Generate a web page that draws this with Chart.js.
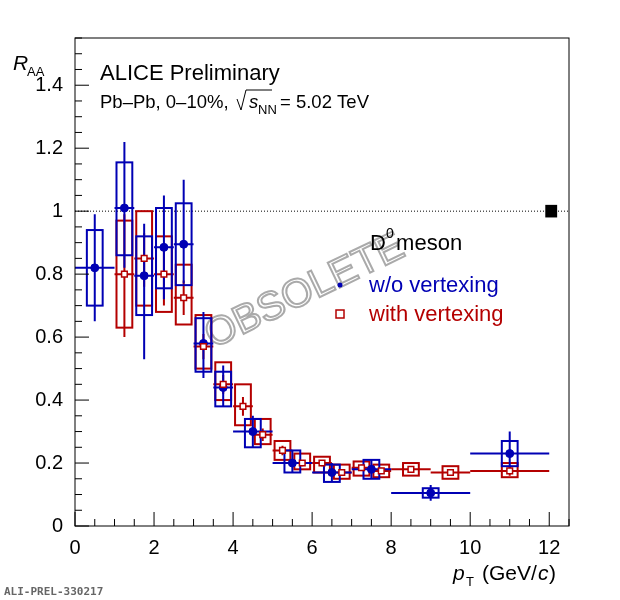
<!DOCTYPE html>
<html><head><meta charset="utf-8">
<script src="https://cdn.jsdelivr.net/npm/chart.js@4"></script>
<style>body{margin:0;background:#fff}#wrap{width:620px;height:600px}</style>
</head><body><div id="wrap"><canvas id="c"></canvas></div>
<script>
// w/o vertexing (blue)
const bluePt = [0.5, 1.25, 1.75, 2.25, 2.75, 3.25, 3.75, 4.5, 5.5, 6.5, 7.5, 9, 11];
const blueXerr = [0.5, 0.25, 0.25, 0.25, 0.25, 0.25, 0.25, 0.5, 0.5, 0.5, 0.5, 1, 1];
const blueR = [0.82, 1.01, 0.795, 0.885, 0.895, 0.58, 0.44, 0.30, 0.20, 0.17, 0.18, 0.105, 0.23];
const blueStatLo = [0.65, 0.82, 0.53, 0.72, 0.77, 0.47, 0.38, 0.25, 0.17, 0.14, 0.15, 0.08, 0.17];
const blueStatHi = [0.99, 1.22, 0.96, 1.05, 1.10, 0.68, 0.51, 0.35, 0.24, 0.20, 0.21, 0.13, 0.30];
const blueSysLo = [0.70, 0.86, 0.67, 0.755, 0.765, 0.49, 0.38, 0.25, 0.17, 0.14, 0.15, 0.09, 0.19];
const blueSysHi = [0.94, 1.155, 0.92, 1.01, 1.025, 0.66, 0.49, 0.34, 0.24, 0.195, 0.21, 0.12, 0.27];
// with vertexing (red)
const redPt = [1.25, 1.75, 2.25, 2.75, 3.25, 3.75, 4.25, 4.75, 5.25, 5.75, 6.25, 6.75, 7.25, 7.75, 8.5, 9.5, 11];
const redXerr = [0.25, 0.25, 0.25, 0.25, 0.25, 0.25, 0.25, 0.25, 0.25, 0.25, 0.25, 0.25, 0.25, 0.25, 0.5, 0.5, 1];
const redR = [0.80, 0.85, 0.80, 0.725, 0.57, 0.45, 0.38, 0.29, 0.24, 0.20, 0.20, 0.17, 0.185, 0.175, 0.18, 0.17, 0.175];
const redStatLo = [0.60, 0.76, 0.70, 0.67, 0.53, 0.42, 0.35, 0.27, 0.225, 0.19, 0.19, 0.16, 0.175, 0.165, 0.17, 0.16, 0.16];
const redStatHi = [0.99, 0.93, 0.90, 0.78, 0.61, 0.48, 0.41, 0.31, 0.255, 0.21, 0.21, 0.18, 0.195, 0.185, 0.19, 0.18, 0.19];
const redSysLo = [0.63, 0.70, 0.68, 0.64, 0.50, 0.40, 0.32, 0.26, 0.21, 0.18, 0.17, 0.15, 0.16, 0.155, 0.16, 0.15, 0.155];
const redSysHi = [0.97, 1.00, 0.92, 0.83, 0.67, 0.52, 0.45, 0.34, 0.27, 0.23, 0.22, 0.195, 0.205, 0.195, 0.20, 0.19, 0.20];
const xTicks = [0, 2, 4, 6, 8, 10, 12];
const yTicks = [0, 0.2, 0.4, 0.6, 0.8, 1, 1.2, 1.4];

const BLUE = '#0000b4', RED = '#b40000', BOXW = 0.2;

function pts(x, y) { return x.map((v, i) => ({x: v, y: y[i]})); }

const decor = {
  id: 'decor',
  beforeDatasetsDraw(chart) {
    const {ctx, chartArea: a, scales: {x, y}} = chart;
    ctx.save();
    // dotted line at 1
    ctx.strokeStyle = '#000'; ctx.lineWidth = 1; ctx.setLineDash([1, 2]);
    ctx.beginPath(); ctx.moveTo(a.left, y.getPixelForValue(1)); ctx.lineTo(a.right, y.getPixelForValue(1)); ctx.stroke();
    ctx.setLineDash([]);
    // normalisation box
    ctx.fillStyle = '#000';
    ctx.fillRect(x.getPixelForValue(11.9), y.getPixelForValue(1.02), x.getPixelForValue(12.2) - x.getPixelForValue(11.9), y.getPixelForValue(0.98) - y.getPixelForValue(1.02));
    // watermark
    ctx.save();
    ctx.translate(305, 292); ctx.rotate(-0.45);
    ctx.font = '40px "Liberation Sans"'; ctx.textAlign = 'center'; ctx.textBaseline = 'middle';
    ctx.strokeStyle = '#aaa'; ctx.lineWidth = 2; ctx.strokeText('OBSOLETE', 0, 0);
    ctx.restore();
    const series = [
      [redPt, redXerr, redR, redStatLo, redStatHi, redSysLo, redSysHi, RED],
      [bluePt, blueXerr, blueR, blueStatLo, blueStatHi, blueSysLo, blueSysHi, BLUE]
    ];
    ctx.lineWidth = 2;
    for (const [px, xe, r, sl, sh, yl, yh, col] of series) {
      ctx.strokeStyle = col;
      px.forEach((v, i) => {
        const l = x.getPixelForValue(v - BOXW), rr = x.getPixelForValue(v + BOXW);
        ctx.strokeRect(l, y.getPixelForValue(yh[i]), rr - l, y.getPixelForValue(yl[i]) - y.getPixelForValue(yh[i]));
        ctx.beginPath();
        ctx.moveTo(x.getPixelForValue(v - xe[i]), y.getPixelForValue(r[i]));
        ctx.lineTo(x.getPixelForValue(v + xe[i]), y.getPixelForValue(r[i]));
        ctx.moveTo(x.getPixelForValue(v), y.getPixelForValue(sl[i]));
        ctx.lineTo(x.getPixelForValue(v), y.getPixelForValue(sh[i]));
        ctx.stroke();
      });
    }
    ctx.restore();
  },
  afterDraw(chart) {
    const {ctx, chartArea: a, scales: {x, y}} = chart;
    ctx.save();
    ctx.strokeStyle = '#000'; ctx.lineWidth = 1;
    ctx.strokeRect(a.left, a.top, a.right - a.left, a.bottom - a.top);
    ctx.beginPath();
    for (let v = 0; v <= 12.5; v += 0.5) {
      const p = x.getPixelForValue(v), len = v % 2 === 0 ? 14 : 7;
      ctx.moveTo(p, a.bottom); ctx.lineTo(p, a.bottom - len);
    }
    for (let k = 0; k <= 31; k++) {
      const v = k * 0.05, p = y.getPixelForValue(v), len = k % 4 === 0 ? 14 : 7;
      if (v > 1.55) break;
      ctx.moveTo(a.left, p); ctx.lineTo(a.left + len, p);
    }
    ctx.stroke();
    ctx.fillStyle = '#000';
    ctx.font = '22px "Liberation Sans"';
    ctx.fillText('ALICE Preliminary', 100, 80);
    ctx.font = '18.5px "Liberation Sans"';
    ctx.fillText('Pb\u2013Pb, 0\u201310%,', 100, 108);
    ctx.beginPath(); ctx.moveTo(237, 99); ctx.lineTo(241, 110); ctx.lineTo(246, 90); ctx.lineTo(272, 90); ctx.stroke();
    ctx.font = 'italic 18.5px "Liberation Sans"'; ctx.fillText('s', 249, 108);
    ctx.font = '13px "Liberation Sans"'; ctx.fillText('NN', 258, 114);
    ctx.font = '18.5px "Liberation Sans"'; ctx.fillText('= 5.02 TeV', 280, 108);
    ctx.font = '22px "Liberation Sans"';
    ctx.fillText('D', 370, 250); ctx.font = '14px "Liberation Sans"'; ctx.fillText('0', 386, 238);
    ctx.font = '22px "Liberation Sans"'; ctx.fillText(' meson', 390, 250);
    ctx.fillStyle = BLUE; ctx.fillText('w/o vertexing', 369, 292);
    ctx.beginPath(); ctx.arc(340, 285, 2.5, 0, 7); ctx.fill();
    ctx.fillStyle = RED; ctx.fillText('with vertexing', 369, 321);
    ctx.strokeStyle = RED; ctx.lineWidth = 1.5; ctx.strokeRect(336, 310, 8, 8);
    ctx.fillStyle = '#000';
    ctx.font = 'italic 21px "Liberation Sans"'; ctx.fillText('R', 13, 70);
    ctx.font = '13px "Liberation Sans"'; ctx.fillText('AA', 27, 76);
    ctx.font = 'italic 21px "Liberation Sans"'; ctx.fillText('p', 453, 580);
    ctx.font = '13px "Liberation Sans"'; ctx.fillText('T', 466, 586);
    ctx.font = '21px "Liberation Sans"'; ctx.fillText('(GeV/', 482, 580);
    ctx.font = 'italic 21px "Liberation Sans"'; ctx.fillText('c', 538, 580);
    ctx.font = '21px "Liberation Sans"'; ctx.fillText(')', 549, 580);
    ctx.fillStyle = '#666'; ctx.font = 'bold 11px "DejaVu Sans Mono"';
    ctx.fillText('ALI-PREL-330217', 4, 595);
    ctx.restore();
  }
};

new Chart(document.getElementById('c'), {
  type: 'scatter',
  data: {
    datasets: [
      {data: pts(redPt, redR), pointStyle: 'rect', pointRadius: 4, borderColor: RED, backgroundColor: '#fff', borderWidth: 1.5},
      {data: pts(bluePt, blueR), pointStyle: 'circle', pointRadius: 4, borderColor: BLUE, backgroundColor: BLUE}
    ]
  },
  options: {
    responsive: true, maintainAspectRatio: false, animation: false,
    layout: {padding: {top: 38, right: 51, left: 10, bottom: 10}},
    plugins: {legend: {display: false}, tooltip: {enabled: false}},
    scales: {
      x: {min: 0, max: 12.5, grid: {display: false}, border: {display: false},
          afterBuildTicks: s => { s.ticks = xTicks.map(v => ({value: v})); },
          afterFit: s => { s.height = 64; },
          ticks: {color: '#000', font: {family: 'Liberation Sans', size: 20}, padding: 2, maxRotation: 0}},
      y: {min: 0, max: 1.55, grid: {display: false}, border: {display: false},
          afterBuildTicks: s => { s.ticks = yTicks.map(v => ({value: v})); },
          afterFit: s => { s.width = 65; },
          ticks: {color: '#000', font: {family: 'Liberation Sans', size: 20}, padding: 4,
                  callback: v => v === 0 || v === 1 ? String(v) : v.toFixed(1)}}
    }
  },
  plugins: [decor]
});
</script></body></html>
